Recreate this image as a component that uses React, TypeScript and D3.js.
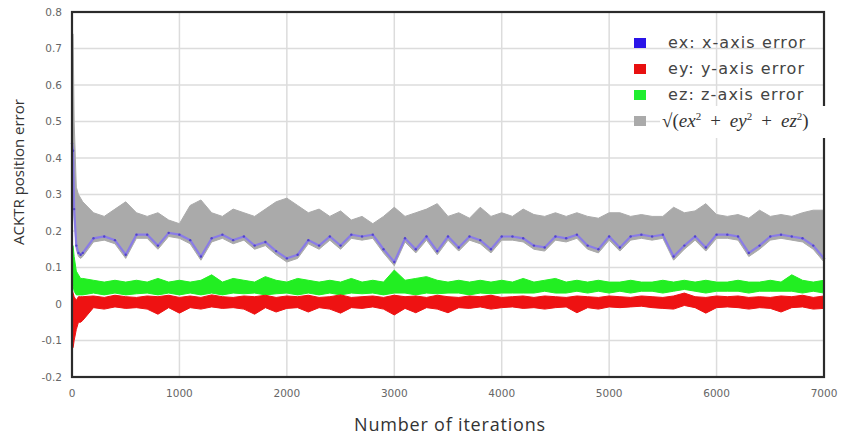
import React from "react";
import * as d3 from "d3";

// iteration axis: dense at the start (transient), then every 100
const iterations = [0, 10, 20, 40, 60, 80, ...d3.range(100, 7001, 100)];

// ex: x-axis error
const exVals = [
  0.44, 0.42, 0.26, 0.16, 0.14, 0.135,
  0.14, 0.18, 0.185, 0.175, 0.135, 0.19, 0.19, 0.16, 0.195, 0.19,
  0.175, 0.13, 0.18, 0.19, 0.175, 0.185, 0.16, 0.17, 0.145, 0.125,
  0.135, 0.175, 0.16, 0.185, 0.16, 0.19, 0.185, 0.19, 0.15, 0.115,
  0.18, 0.15, 0.185, 0.145, 0.185, 0.155, 0.185, 0.175, 0.15, 0.185,
  0.185, 0.18, 0.16, 0.155, 0.185, 0.18, 0.19, 0.16, 0.15, 0.185,
  0.155, 0.185, 0.19, 0.185, 0.19, 0.13, 0.16, 0.185, 0.155, 0.19,
  0.19, 0.185, 0.14, 0.16, 0.185, 0.19, 0.185, 0.18, 0.16, 0.125,
];

// sqrt(ex^2+ey^2+ez^2): upper and lower edge of the grey trace
const normHi = [
  0.74, 0.74, 0.5, 0.32, 0.3, 0.29,
  0.28, 0.25, 0.24, 0.26, 0.28, 0.25, 0.24, 0.25, 0.23, 0.22,
  0.27, 0.285, 0.25, 0.24, 0.26, 0.25, 0.24, 0.26, 0.28, 0.29,
  0.27, 0.25, 0.26, 0.24, 0.255, 0.23, 0.24, 0.22, 0.24, 0.265,
  0.24, 0.25, 0.26, 0.275, 0.24, 0.25, 0.235, 0.265, 0.24, 0.25,
  0.24, 0.26, 0.245, 0.24, 0.25, 0.24, 0.25, 0.24, 0.235, 0.25,
  0.25, 0.24, 0.245, 0.24, 0.24, 0.265, 0.25, 0.255, 0.275, 0.245,
  0.24, 0.245, 0.235, 0.257, 0.24, 0.245, 0.24, 0.25, 0.257, 0.257,
];
const normLo = [
  0.42, 0.4, 0.24, 0.15, 0.13, 0.125,
  0.13, 0.17, 0.175, 0.165, 0.125, 0.18, 0.18, 0.15, 0.185, 0.18,
  0.165, 0.12, 0.17, 0.18, 0.165, 0.175, 0.15, 0.16, 0.135, 0.115,
  0.125, 0.165, 0.15, 0.175, 0.15, 0.18, 0.175, 0.18, 0.14, 0.105,
  0.17, 0.14, 0.175, 0.135, 0.175, 0.145, 0.175, 0.165, 0.14, 0.175,
  0.175, 0.17, 0.15, 0.145, 0.175, 0.17, 0.18, 0.15, 0.14, 0.175,
  0.145, 0.175, 0.18, 0.175, 0.18, 0.12, 0.15, 0.175, 0.145, 0.18,
  0.18, 0.175, 0.13, 0.15, 0.175, 0.18, 0.175, 0.17, 0.15, 0.115,
];

// ez: z-axis error (green trace edges)
const ezHi = [
  0.16, 0.16, 0.13, 0.09, 0.08, 0.07,
  0.07, 0.065, 0.06, 0.065, 0.06, 0.065, 0.06, 0.07, 0.06, 0.065,
  0.06, 0.065, 0.08, 0.06, 0.07, 0.065, 0.06, 0.075, 0.065, 0.06,
  0.07, 0.065, 0.06, 0.065, 0.06, 0.07, 0.06, 0.065, 0.06, 0.093,
  0.065, 0.07, 0.075, 0.065, 0.06, 0.065, 0.06, 0.065, 0.06, 0.065,
  0.06, 0.07, 0.06, 0.065, 0.07, 0.06, 0.065, 0.06, 0.065, 0.06,
  0.06, 0.065, 0.06, 0.06, 0.065, 0.06, 0.065, 0.06, 0.065, 0.06,
  0.06, 0.065, 0.06, 0.06, 0.065, 0.06, 0.08, 0.065, 0.06, 0.065,
];
const ezLo = [
  0.05, 0.05, 0.035, 0.025, 0.025, 0.025,
  0.025, 0.03, 0.025, 0.03, 0.025, 0.028, 0.03, 0.025, 0.03, 0.025,
  0.03, 0.025, 0.03, 0.025, 0.03, 0.028, 0.03, 0.025, 0.028, 0.03,
  0.025, 0.03, 0.025, 0.03, 0.025, 0.03, 0.028, 0.03, 0.025, 0.03,
  0.03, 0.025, 0.03, 0.028, 0.03, 0.03, 0.025, 0.03, 0.028, 0.03,
  0.03, 0.03, 0.03, 0.035, 0.03, 0.03, 0.035, 0.03, 0.035, 0.03,
  0.035, 0.03, 0.035, 0.035, 0.03, 0.035, 0.04, 0.035, 0.03, 0.035,
  0.035, 0.035, 0.03, 0.035, 0.035, 0.035, 0.035, 0.03, 0.035, 0.03,
];

// ey: y-axis error (red trace edges)
const eyHi = [
  0.04, 0.03, 0.02, 0.01, 0.02, 0.02,
  0.02, 0.022, 0.018, 0.024, 0.02, 0.018, 0.022, 0.02, 0.024, 0.018,
  0.022, 0.018, 0.025, 0.02, 0.018, 0.022, 0.02, 0.024, 0.018, 0.022,
  0.02, 0.024, 0.018, 0.02, 0.025, 0.018, 0.02, 0.022, 0.018, 0.024,
  0.02, 0.022, 0.018, 0.024, 0.02, 0.018, 0.022, 0.02, 0.024, 0.018,
  0.02, 0.022, 0.018, 0.022, 0.02, 0.018, 0.022, 0.02, 0.018, 0.022,
  0.02, 0.018, 0.022, 0.02, 0.018, 0.022, 0.03, 0.02, 0.018, 0.022,
  0.02, 0.022, 0.018, 0.02, 0.018, 0.022, 0.02, 0.024, 0.018, 0.022,
];
const eyLo = [
  -0.12, -0.12, -0.1, -0.07, -0.05, -0.05,
  -0.045, -0.01, -0.014, -0.008, -0.012, -0.01, -0.014, -0.028, -0.01, -0.025,
  -0.01, -0.014, -0.008, -0.012, -0.01, -0.014, -0.028, -0.01, -0.022, -0.012,
  -0.01, -0.022, -0.01, -0.014, -0.025, -0.01, -0.012, -0.008, -0.014, -0.03,
  -0.012, -0.024, -0.01, -0.014, -0.024, -0.01, -0.012, -0.008, -0.014, -0.01,
  -0.008, -0.012, -0.01, -0.014, -0.01, -0.008, -0.024, -0.01, -0.014, -0.008,
  -0.01, -0.008, -0.006, -0.01, -0.012, -0.014, -0.004, -0.01, -0.025, -0.01,
  -0.008, -0.01, -0.014, -0.01, -0.012, -0.022, -0.01, -0.008, -0.014, -0.012,
];

const xTicks = [0, 1000, 2000, 3000, 4000, 5000, 6000, 7000];
const yTicks = [-0.2, -0.1, 0, 0.1, 0.2, 0.3, 0.4, 0.5, 0.6, 0.7, 0.8];

const legendItems = [
  { label: "ex: x-axis error", color: "#2a14e8" },
  { label: "ey: y-axis error", color: "#e81010" },
  { label: "ez: z-axis error", color: "#20ee30" },
];

export default function App() {
  const W = 846, H = 439;
  const x = d3.scaleLinear().domain([0, 7000]).range([72, 824]);
  const y = d3.scaleLinear().domain([-0.2, 0.8]).range([377, 12]);
  const idx = d3.range(iterations.length);

  const band = (lo: number[], hi: number[]) =>
    d3.area<number>()
      .x((d) => x(iterations[d]))
      .y0((d) => y(lo[d]))
      .y1((d) => y(hi[d]))(idx) || "";

  const exLine = d3.line<number>()
    .x((d) => x(iterations[d]))
    .y((d) => y(exVals[d]))(idx) || "";

  return (
    <svg width={W} height={H} style={{ position: "absolute", left: 0, top: 0, background: "#fff" }}>
      {/* grid */}
      {yTicks.map((t) => (
        <line key={"gy" + t} x1={72} x2={824} y1={y(t)} y2={y(t)} stroke="#dcdcdc" strokeWidth={1.5} />
      ))}
      {xTicks.map((t) => (
        <line key={"gx" + t} x1={x(t)} x2={x(t)} y1={12} y2={377} stroke="#dcdcdc" strokeWidth={1.5} />
      ))}

      {/* series */}
      <path d={band(normLo, normHi)} fill="#aaaaaa" stroke="#aaaaaa" strokeWidth={1} strokeLinejoin="miter" />
      <path d={exLine} fill="none" stroke="#8a7ce6" strokeWidth={2.2} />
      {iterations.map((it, i) => (
        <circle key={"ex" + it} cx={x(it)} cy={y(exVals[i])} r={1.2} fill="#3a2cc0" opacity={0.7} />
      ))}
      <path d={band(ezLo, ezHi)} fill="#22ee22" stroke="#22ee22" strokeWidth={1} strokeLinejoin="miter" />
      <path d={band(eyLo, eyHi)} fill="#ee1212" stroke="#ee1212" strokeWidth={1} strokeLinejoin="miter" />

      {/* frame */}
      <rect x={72} y={12} width={752} height={365} fill="none" stroke="#2b2b2b" strokeWidth={2.2} />

      {/* ticks */}
      {yTicks.map((t) => (
        <text key={"ty" + t} x={62} y={y(t)} dy="0.35em" textAnchor="end"
          fontFamily="DejaVu Sans" fontSize={10.5} fill="#666">{String(t)}</text>
      ))}
      {xTicks.map((t) => (
        <text key={"tx" + t} x={x(t)} y={397} textAnchor="middle"
          fontFamily="DejaVu Sans" fontSize={10.5} fill="#666">{String(t)}</text>
      ))}

      {/* axis titles */}
      <text transform="translate(24,172) rotate(-90)" textAnchor="middle"
        fontFamily="Open Sans" fontSize={15} fill="#333">ACKTR position error</text>
      <text x={450} y={431} textAnchor="middle" fontFamily="Open Sans" fontSize={18}
        letterSpacing={0.8} fill="#333">
        Number of iterations
      </text>

      {/* legend */}
      {legendItems.map((it, i) => (
        <g key={it.label} transform={`translate(634,${38 + i * 26})`}>
          <rect width={12} height={10} fill={it.color} />
          <text x={34} y={10} fontFamily="DejaVu Sans" fontSize={16} letterSpacing={1.1} fill="#444">
            {it.label}
          </text>
        </g>
      ))}
      <rect x={660} y={106} width={186} height={32} fill="#fff" />
      <rect x={634} y={116} width={12} height={10} fill="#aaaaaa" />
      <text x={662} y={127} fontFamily="Liberation Serif" fontSize={19} fill="#333">
        <tspan>√(</tspan>
        <tspan fontStyle="italic">ex</tspan>
        <tspan fontSize={11} dy={-7}>2</tspan>
        <tspan dx={9} dy={7}>+</tspan>
        <tspan dx={9} fontStyle="italic">ey</tspan>
        <tspan fontSize={11} dy={-7}>2</tspan>
        <tspan dx={9} dy={7}>+</tspan>
        <tspan dx={9} fontStyle="italic">ez</tspan>
        <tspan fontSize={11} dy={-7}>2</tspan>
        <tspan dy={7}>)</tspan>
      </text>
    </svg>
  );
}
